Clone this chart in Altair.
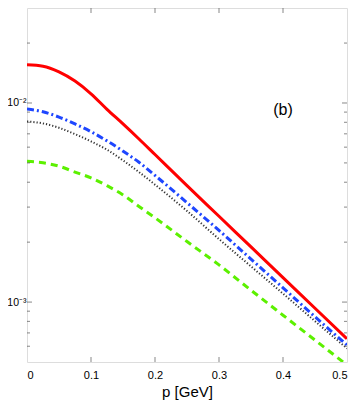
import altair as alt
import pandas as pd

# momentum grid [GeV]
p = [0.0, 0.025, 0.05, 0.075, 0.1, 0.125, 0.15, 0.175, 0.2, 0.25, 0.3, 0.35, 0.4, 0.45, 0.5]
red = [0.015557, 0.015297, 0.014333, 0.012884, 0.011127, 0.009295, 0.007852, 0.006596, 0.005509,
       0.003843, 0.002698, 0.001892, 0.001328, 0.000931, 0.000654]
blue = [0.009316, 0.009038, 0.008494, 0.007852, 0.007176, 0.006450, 0.005730, 0.005035, 0.004326,
        0.003157, 0.002291, 0.001643, 0.001179, 0.000844, 0.000608]
gray = [0.008076, 0.007896, 0.007507, 0.006977, 0.006413, 0.005826, 0.005148, 0.004497, 0.003887,
        0.002869, 0.002071, 0.001511, 0.001103, 0.000802, 0.000585]
green = [0.005091, 0.005006, 0.004813, 0.004497, 0.004206, 0.003843, 0.003453, 0.003020, 0.002652,
         0.002013, 0.001537, 0.001147, 0.000859, 0.000644, 0.000483]

x_ticks = [0.1, 0.2, 0.3, 0.4]
y_major = [0.001, 0.01]
y_minor = [0.0006, 0.0007, 0.0008, 0.0009, 0.002, 0.003, 0.004, 0.005, 0.006, 0.007, 0.008, 0.009, 0.02]

FONT = "Liberation Sans"
AX = "#555555"

xs = alt.Scale(domain=[0, 0.5], nice=False, zero=False)
ys = alt.Scale(type="log", domain=[0.0005, 0.03], nice=False)

x_axis = alt.Axis(values=[0, 0.1, 0.2, 0.3, 0.4, 0.5],
                  labelExpr="datum.value == 0 ? '0' : format(datum.value, '.1f')",
                  ticks=False, domain=False, grid=False, labelFontSize=11,
                  labelColor="black", labelFont=FONT, labelPadding=7,
                  title="p [GeV]", titleFont=FONT, titleFontSize=15,
                  titleFontWeight="normal", titleColor="black", titlePadding=4)
y_axis = alt.Axis(values=[0.001, 0.01],
                  labelExpr="datum.value == 0.01 ? '10\u207b\u00b2' : '10\u207b\u00b3'",
                  ticks=False, domain=False, grid=False, labelFontSize=10.5,
                  labelColor="black", labelFont=FONT, labelPadding=1, title=None)


def curve(vals, color, width, dash=None):
    df = pd.DataFrame({"p": p, "v": vals})
    kw = dict(color=color, strokeWidth=width, interpolate="monotone", clip=True)
    if dash:
        kw["strokeDash"] = dash
    return alt.Chart(df).mark_line(**kw).encode(
        x=alt.X("p:Q", scale=xs, axis=x_axis),
        y=alt.Y("v:Q", scale=ys, axis=y_axis),
    )


layers = [
    curve(green, "#5cf000", 3, [7, 5]),
    curve(gray, "#333333", 2, [1.2, 2]),
    curve(blue, "#1e46ff", 3, [7, 3, 2, 3]),
    curve(red, "#ff0000", 3),
]

# inward ticks on all four sides
xt = pd.DataFrame({"t": x_ticks})
for yv, off in [(0.0005, -2.5), (0.03, 2.5)]:
    layers.append(alt.Chart(xt).mark_tick(orient="vertical", size=5, thickness=1,
                                          color=AX, yOffset=off).encode(
        x=alt.X("t:Q", scale=xs), y=alt.datum(yv, scale=ys)))
for vals, L in [(y_major, 5), (y_minor, 3)]:
    yt = pd.DataFrame({"t": vals})
    for xv, off in [(0, L / 2), (0.5, -L / 2)]:
        layers.append(alt.Chart(yt).mark_tick(orient="horizontal", size=L, thickness=1,
                                              color=AX, xOffset=off).encode(
            y=alt.Y("t:Q", scale=ys), x=alt.datum(xv, scale=xs)))

label_df = pd.DataFrame({"p": [0.4], "v": [0.0092], "t": ["(b)"]})
layers.append(alt.Chart(label_df).mark_text(font=FONT, fontSize=16, color="black").encode(
    x=alt.X("p:Q", scale=xs), y=alt.Y("v:Q", scale=ys), text="t:N"))

chart = alt.layer(*layers).properties(
    width=320, height=354,
    padding={"left": 19, "top": 0, "right": 8, "bottom": 40},
    autosize=alt.AutoSizeParams(type="none"),
).configure_view(stroke=AX, strokeWidth=1).configure(background="white")

chart.save("out.html", embed_options={"renderer": "svg", "actions": False})
